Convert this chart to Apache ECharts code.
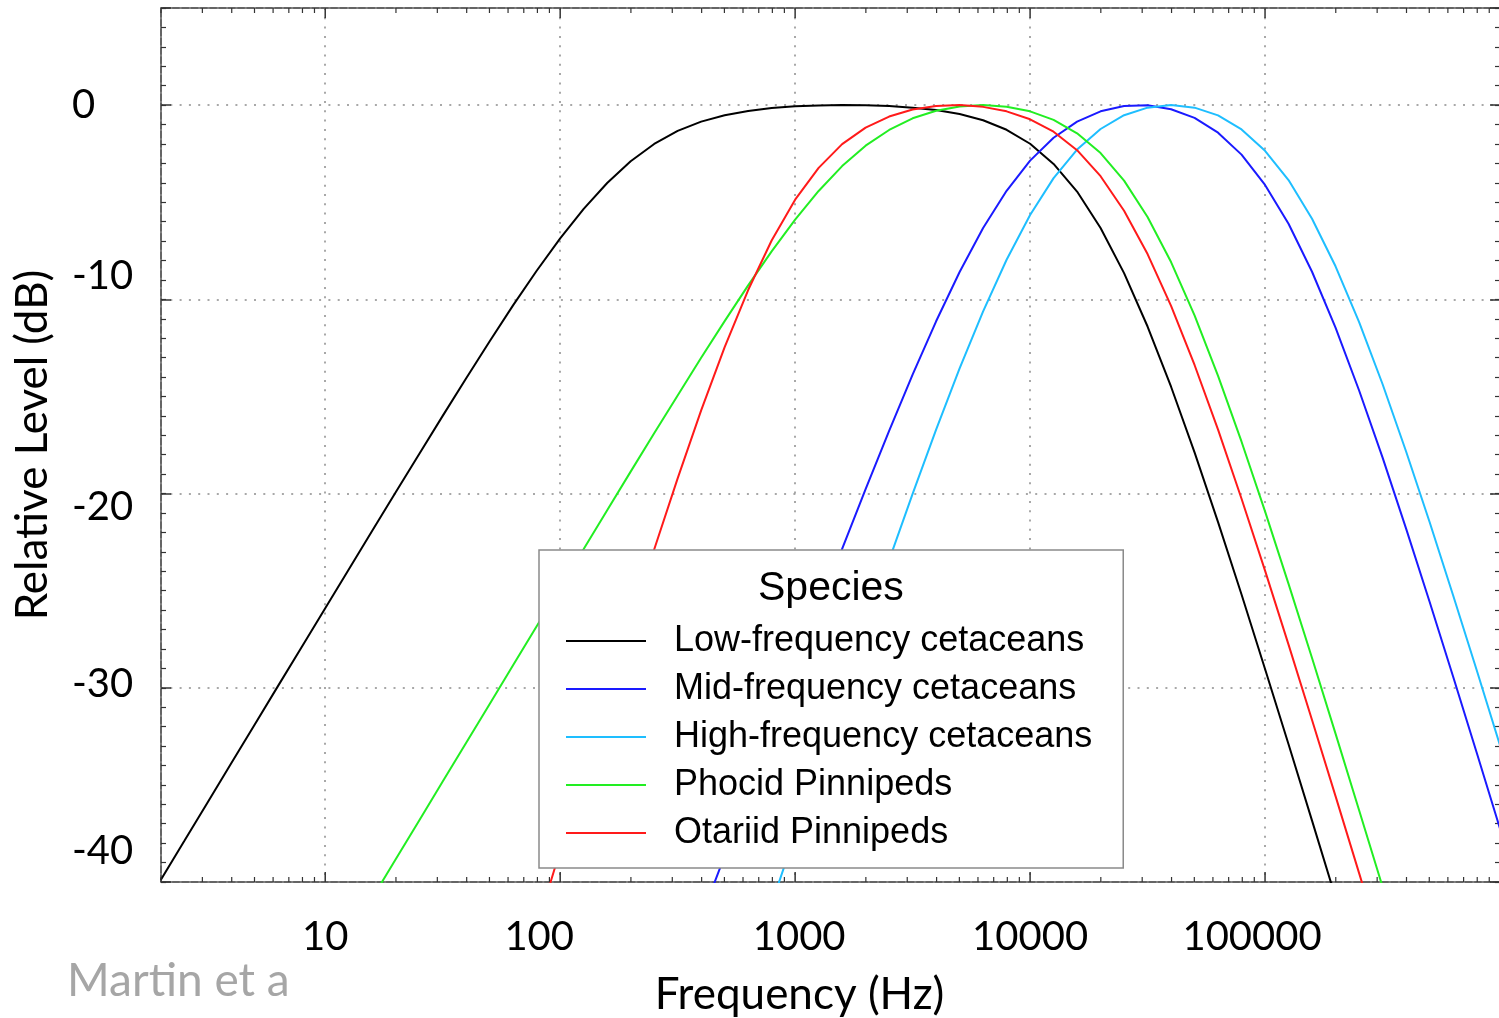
<!DOCTYPE html>
<html>
<head>
<meta charset="utf-8">
<title>Auditory weighting functions</title>
<script src="https://cdn.jsdelivr.net/npm/echarts@6/dist/echarts.min.js"></script>
<style>
html, body { margin: 0; padding: 0; background: #fff; }
#chart { width: 1499px; height: 1018px; }
</style>
</head>
<body>
<div id="chart"></div>
<script>
// frequency grid (Hz), one point every 0.1 decade
var freqs = [
  1.995, 2.512, 3.162, 3.981, 5.012, 6.310, 7.943, 10, 12.59, 15.85,
  19.95, 25.12, 31.62, 39.81, 50.12, 63.10, 79.43, 100, 125.9, 158.5,
  199.5, 251.2, 316.2, 398.1, 501.2, 631.0, 794.3, 1000, 1259, 1585,
  1995, 2512, 3162, 3981, 5012, 6310, 7943, 10000, 12589, 15849,
  19953, 25119, 31623, 39811, 50119, 63096, 79433, 100000, 125893, 158489,
  199526, 251189, 316228, 398107, 501187, 630957, 794328, 1000000
];

// relative level (dB), null = outside the plot
var lowFreqCet = [
  -39.89, -37.89, -35.89, -33.89, -31.89, -29.89, -27.90, -25.90, -23.91, -21.92,
  -19.93, -17.96, -16.00, -14.06, -12.16, -10.30, -8.53, -6.86, -5.34, -4.01,
  -2.89, -2.00, -1.33, -0.85, -0.52, -0.30, -0.15, -0.06, -0.02, 0.00,
  -0.01, -0.05, -0.13, -0.25, -0.46, -0.78, -1.27, -1.99, -3.03, -4.45,
  -6.33, -8.65, -11.40, -14.50, -17.88, -21.47, -25.20, -29.03, -32.91, -36.84,
  -40.80, null, null, null, null, null, null, null
];
var midFreqCet = [
  null, null, null, null, null, null, null, null, null, null,
  null, null, null, null, null, null, null, null, null, null,
  null, null, null, -41.84, -38.65, -35.46, -32.28, -29.11, -25.97, -22.85,
  -19.77, -16.77, -13.88, -11.13, -8.59, -6.33, -4.41, -2.86, -1.68, -0.85,
  -0.32, -0.05, -0.01, -0.21, -0.66, -1.42, -2.55, -4.11, -6.11, -8.58,
  -11.46, -14.68, -18.14, -21.79, -25.56, -29.41, -33.31, -37.25
];
var highFreqCet = [
  null, null, null, null, null, null, null, null, null, null,
  null, null, null, null, null, null, null, null, null, null,
  null, null, null, null, null, null, -41.13, -37.55, -33.98, -30.43,
  -26.91, -23.43, -20.02, -16.71, -13.56, -10.62, -7.96, -5.66, -3.76, -2.29,
  -1.23, -0.52, -0.13, 0.00, -0.13, -0.53, -1.25, -2.35, -3.86, -5.85,
  -8.30, -11.16, -14.36, -17.82, -21.45, -25.22, -29.06, -32.97
];
var phocid = [
  null, null, null, null, null, null, null, null, null, -40.83,
  -38.83, -36.83, -34.83, -32.83, -30.83, -28.83, -26.83, -24.84, -22.85, -20.86,
  -18.87, -16.90, -14.95, -13.01, -11.12, -9.28, -7.53, -5.90, -4.42, -3.14,
  -2.09, -1.28, -0.68, -0.29, -0.07, 0.00, -0.08, -0.32, -0.76, -1.45,
  -2.47, -3.89, -5.76, -8.08, -10.83, -13.94, -17.33, -20.92, -24.65, -28.47,
  -32.36, -36.29, -40.24, null, null, null, null, null
];
var otariid = [
  null, null, null, null, null, null, null, null, null, null,
  null, null, null, null, null, null, -42.35, -38.38, -34.44, -30.53,
  -26.67, -22.88, -19.22, -15.72, -12.46, -9.52, -6.97, -4.87, -3.23, -2.01,
  -1.16, -0.59, -0.23, -0.05, 0.00, -0.09, -0.32, -0.73, -1.37, -2.32,
  -3.66, -5.44, -7.67, -10.34, -13.38, -16.71, -20.27, -23.97, -27.78, -31.66,
  -35.58, -39.53, -43.50, null, null, null, null, null
];

var speciesNames = ['Low-frequency cetaceans', 'Mid-frequency cetaceans', 'High-frequency cetaceans',
  'Phocid Pinnipeds', 'Otariid Pinnipeds'];
var speciesLevels = [lowFreqCet, midFreqCet, highFreqCet, phocid, otariid];

// axis ticks / labels
var xDecades = [1, 10, 100, 1000, 10000, 100000];
var xSteps = [2, 3, 4, 5, 6, 7, 8, 9];
var xLabels = [10, 100, 1000, 10000, 100000];
var yLabels = [0, -10, -20, -30, -40];
var yMin = -40, yMax = 5;

// styles
var speciesColors = ['#000000', '#1a1aff', '#1ebeff', '#22ee22', '#ff1a1a'];
var xLabelShift = { 10: 0, 100: -21, 1000: 4, 10000: 0, 100000: -13 };
var yLabelShift = { 0: 0, '-10': -23, '-20': 14, '-30': -4, '-40': -31 };
var frameColor = '#333';

function pairs(levels) {
  var out = [];
  for (var i = 0; i < freqs.length; i++) {
    if (levels[i] !== null) out.push([freqs[i], levels[i]]);
  }
  return out;
}

var tickData = [];
xDecades.forEach(function (d) {
  if (d > 1) tickData.push([d, 1]);
  xSteps.forEach(function (s) { tickData.push([d * s, 0]); });
});

var labelFont = { fontFamily: 'Lato', fontSize: 40, color: '#000', lineHeight: 40 };
var xRich = {}, yRich = {};
xLabels.forEach(function (v, i) {
  var s = xLabelShift[v];
  xRich['x' + i] = Object.assign({ padding: [0, s < 0 ? -2 * s : 0, 0, s > 0 ? 2 * s : 0] }, labelFont);
});
yLabels.forEach(function (v, i) {
  var s = yLabelShift[v];
  yRich['y' + i] = Object.assign({ padding: [s > 0 ? 2 * s : 0, 0, s < 0 ? -2 * s : 0, 0] }, labelFont);
});

var lineSeries = speciesNames.map(function (name, i) {
  return {
    name: name,
    type: 'line',
    data: pairs(speciesLevels[i]),
    symbol: 'none',
    showSymbol: false,
    clip: true,
    z: 3,
    color: speciesColors[i],
    lineStyle: { color: speciesColors[i], width: 2 }
  };
});

var tickSeries = {
  name: 'ticks',
  type: 'custom',
  silent: true,
  z: 4,
  data: tickData,
  renderItem: function (params, api) {
    var f = api.value(0);
    var major = api.value(1) === 1;
    var len = major ? 10 : 5;
    var b = api.coord([f, yMin]);
    var t = api.coord([f, yMax]);
    var st = { stroke: frameColor, lineWidth: major ? 1.5 : 1.2 };
    return {
      type: 'group',
      children: [
        { type: 'line', shape: { x1: b[0], y1: b[1], x2: b[0], y2: b[1] - len }, style: st },
        { type: 'line', shape: { x1: t[0], y1: t[1], x2: t[0], y2: t[1] + len }, style: st }
      ]
    };
  }
};

var dotted = { color: '#8c8c8c', width: 1.5, type: [2, 7.3] };

function yAxisPart(pos, step, len, withLabels) {
  return {
    type: 'value',
    position: pos,
    min: yMin,
    max: yMax,
    interval: step,
    name: withLabels ? 'Relative Level (dB)' : '',
    nameLocation: 'middle',
    nameGap: 106,
    nameTextStyle: { fontFamily: 'Lato', fontSize: 44, color: '#000' },
    axisLine: { show: false },
    axisTick: { show: true, inside: true, length: len, lineStyle: { color: frameColor, width: len > 5 ? 1.5 : 1.2 } },
    axisLabel: withLabels ? {
      show: true,
      showMinLabel: true,
      align: 'left',
      margin: 89,
      rich: yRich,
      formatter: function (v) {
        var i = yLabels.indexOf(v);
        return i < 0 ? '' : '{y' + i + '|' + v + '}';
      }
    } : { show: false },
    splitLine: withLabels ? { show: true, lineStyle: dotted } : { show: false }
  };
}

var chart = echarts.init(document.getElementById('chart'), null, { renderer: 'canvas' });
chart.setOption({
  animation: false,
  backgroundColor: '#ffffff',
  title: [
    {
      text: 'Species',
      left: 758,
      top: 568,
      padding: 0,
      textStyle: { fontFamily: 'Liberation Sans', fontSize: 41, fontWeight: 'normal', color: '#000', lineHeight: 42 }
    },
    {
      text: 'Martin et a',
      left: 67,
      top: 958,
      padding: 0,
      textStyle: { fontFamily: 'Lato', fontSize: 46, fontWeight: 'normal', color: '#a6a6a6', lineHeight: 46 }
    }
  ],
  legend: {
    data: speciesNames,
    orient: 'vertical',
    left: 539,
    top: 550,
    padding: [73, 31, 17, 27],
    itemGap: 12,
    itemWidth: 80,
    itemHeight: 2,
    icon: 'rect',
    selectedMode: false,
    backgroundColor: '#ffffff',
    borderColor: '#8a8a8a',
    borderWidth: 1.5,
    textStyle: { fontFamily: 'Liberation Sans', fontSize: 36, color: '#000', lineHeight: 36, padding: [0, 0, 0, 23] }
  },
  grid: {
    left: 161,
    right: -1,
    top: 8,
    bottom: 136,
    show: true,
    borderColor: frameColor,
    borderWidth: 1.5,
    backgroundColor: 'transparent',
    containLabel: false,
    outerBoundsMode: 'none'
  },
  xAxis: {
    type: 'log',
    logBase: 10,
    min: 2,
    max: 1000000,
    name: 'Frequency (Hz)',
    nameLocation: 'middle',
    nameGap: 91,
    nameTextStyle: { fontFamily: 'Lato', fontSize: 44, color: '#000', padding: [0, 62, 0, 0] },
    axisLine: { show: false },
    axisTick: { show: false },
    minorTick: { show: false },
    axisLabel: {
      show: true,
      margin: 35,
      rich: xRich,
      formatter: function (v) {
        var i = xLabels.indexOf(Math.round(v));
        return i < 0 ? '' : '{x' + i + '|' + xLabels[i] + '}';
      }
    },
    splitLine: { show: true, lineStyle: dotted }
  },
  yAxis: [
    yAxisPart('left', 10, 10, true),
    yAxisPart('left', 1, 5, false),
    yAxisPart('right', 10, 10, false),
    yAxisPart('right', 1, 5, false)
  ],
  series: lineSeries.concat([tickSeries])
});
</script>
</body>
</html>
